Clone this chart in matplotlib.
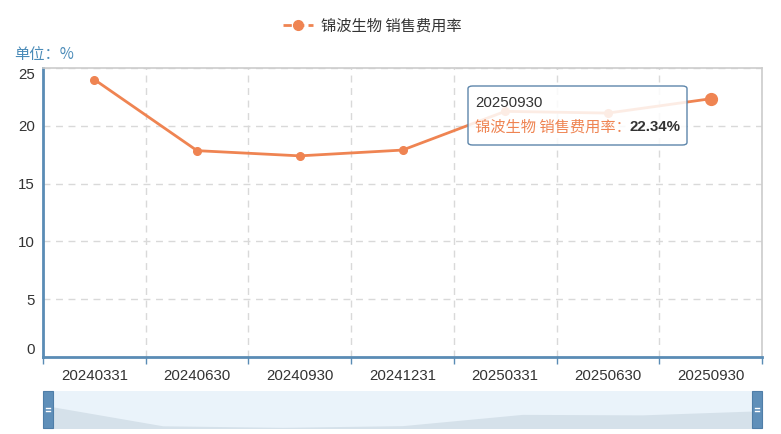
import matplotlib
matplotlib.use("Agg")
import matplotlib.pyplot as plt
from matplotlib.patches import FancyBboxPatch, Rectangle
from matplotlib.lines import Line2D

plt.rcParams['font.family'] = ['Liberation Sans', 'Noto Sans CJK SC', 'DejaVu Sans']

categories = ["20240331", "20240630", "20240930", "20241231", "20250331", "20250630", "20250930"]
values = [24.0, 17.85, 17.4, 17.9, 21.25, 21.1, 22.34]
series_name = "锦波生物 销售费用率"
yticks = [0, 5, 10, 15, 20, 25]

LINE = "#ef8452"
AXIS = "#5a8cb5"
GRID = "#d9d9d9"
TXT = "#333333"

W, H = 781, 434
fig = plt.figure(figsize=(W / 100, H / 100), dpi=100)

ax = fig.add_axes([43 / W, 1 - 357 / H, 719 / W, 289 / H])
x = list(range(len(categories)))
ax.plot(x, values, color=LINE, lw=2, marker="o", ms=5.5, zorder=3, label=series_name)
ax.plot(x[-1:], values[-1:], color=LINE, marker="o", ms=8.5, ls="none", zorder=4)
ax.set_xlim(-0.5, len(categories) - 0.5)
ax.set_ylim(0, 25)
ax.set_xticks(x)
ax.set_xticklabels(categories, fontsize=10.8, color=TXT)
ax.set_xticks([i - 0.5 for i in range(len(categories) + 1)], minor=True)
ax.tick_params(axis="x", which="major", length=0, pad=9)
ax.tick_params(axis="x", which="minor", length=5, width=1, color=AXIS)
ax.set_yticks(yticks)
ax.set_yticklabels([str(v) for v in yticks], fontsize=10.8, color=TXT)
ax.tick_params(axis="y", length=0, pad=6)
labs = ax.get_yticklabels()
labs[0].set_va("bottom")
labs[-1].set_va("top")
ax.grid(True, axis="y", which="major", ls=(0, (5, 4)), color=GRID, lw=1)
ax.grid(True, axis="x", which="minor", ls=(0, (5, 4)), color=GRID, lw=1)
ax.set_axisbelow(True)
for s in ("top", "right"):
    ax.spines[s].set_color("#cccccc")
    ax.spines[s].set_linewidth(1.2)
for s in ("left", "bottom"):
    ax.spines[s].set_color(AXIS)
    ax.spines[s].set_linewidth(2)

# legend
leg = fig.legend(handles=[Line2D([0], [0], color=LINE, lw=2, marker="o", ms=7, ls=(0, (3, 1.5)))],
                 labels=[series_name], loc="center", bbox_to_anchor=(372 / W, 1 - 26 / H),
                 frameon=False, handlelength=2.0, handletextpad=0.5,
                 prop={'family': ['Noto Sans CJK SC'], 'size': 11})
for t in leg.get_texts():
    t.set_color(TXT)

fig.text(14 / W, 1 - 54 / H, "单位：%", color="#4a8bb8", fontsize=11,
         family=['Noto Sans CJK SC'], va="center", ha="left")

# tooltip
tip = FancyBboxPatch((468 / W, 1 - 145 / H), 219 / W, 59 / H, boxstyle="round,pad=0,rounding_size=0.006",
                     transform=fig.transFigure, facecolor=(1, 1, 1, 0.85), edgecolor="#5d86ab", lw=1, zorder=10)
fig.patches.append(tip)
fig.text(475 / W, 1 - 103 / H, "20250930", fontsize=10.8, color=TXT, va="center", ha="left", zorder=11)
fig.text(475 / W, 1 - 127 / H, series_name + "：", fontsize=11, color=LINE,
         family=['Noto Sans CJK SC'], va="center", ha="left", zorder=11)
fig.text(629 / W, 1 - 127 / H, "22.34%", fontsize=10.8, color=TXT, weight="bold",
         va="center", ha="left", zorder=11)

# data zoom slider
sx = fig.add_axes([43 / W, 6 / H, 719 / W, 37 / H])
sx.set_facecolor("#eaf3fa")
sx.fill_between(x, values, 0, color="#d5e1ea", lw=0)
sx.set_xlim(0, len(categories) - 1)
sx.set_ylim(17.2, 28.2)
sx.set_xticks([])
sx.set_yticks([])
for s in sx.spines.values():
    s.set_visible(False)
for hx in (43, 752):
    r = Rectangle((hx / W, 6 / H), 10 / W, 37 / H, transform=fig.transFigure,
                  facecolor="#5f8fb9", edgecolor="#4f7ea8", lw=0.8, zorder=5)
    fig.patches.append(r)
    for dy in (-1.5, 1.5):
        fig.lines.append(Line2D([(hx + 3) / W, (hx + 7) / W], [(24.5 + dy) / H] * 2,
                                transform=fig.transFigure, color="white", lw=1, zorder=6))

fig.savefig("out.png", dpi=100)
